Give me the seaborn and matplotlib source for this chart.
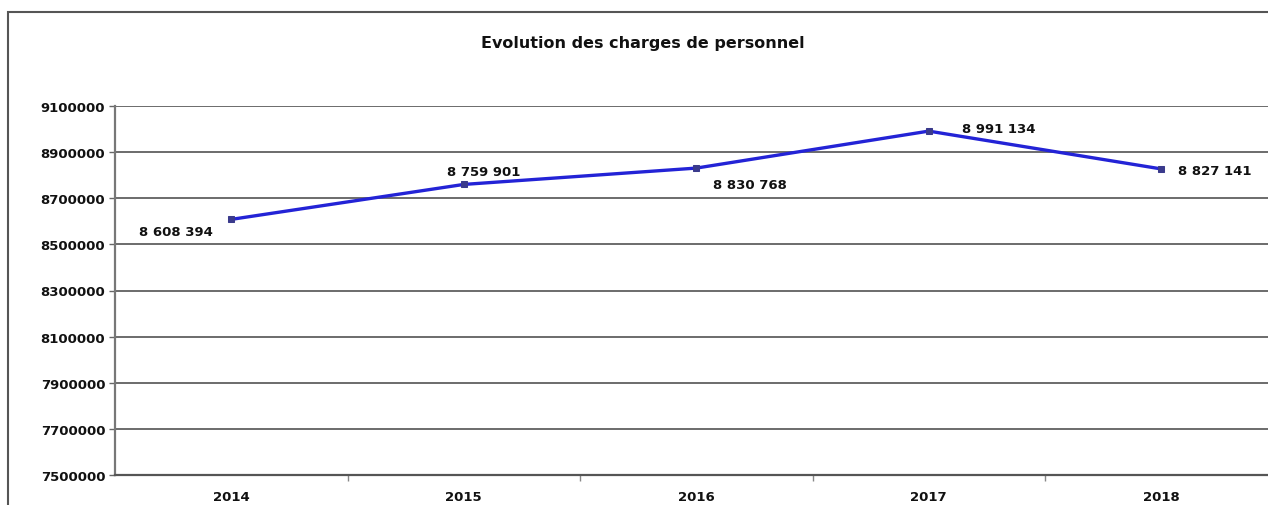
import matplotlib.pyplot as plt
import matplotlib.patches as mpatches
import pandas as pd
import seaborn as sns

years = ["2014", "2015", "2016", "2017", "2018"]
charges = [8608394, 8759901, 8830768, 8991134, 8827141]
value_labels = ["8 608 394", "8 759 901", "8 830 768", "8 991 134", "8 827 141"]
y_ticks = list(range(7500000, 9100001, 200000))

# label offsets (points) and alignment for each data label
label_pos = [
    ((-13, -9), "right"),
    ((14, 9), "center"),
    ((12, -12), "left"),
    ((24, 2), "left"),
    ((12, -1), "left"),
]

df = pd.DataFrame({"year": years, "charges": charges})

sns.set_style("white")
plt.rcParams["font.family"] = ["DejaVu Sans"]
plt.rcParams["text.color"] = "#111111"
plt.rcParams["xtick.color"] = "#555555"
plt.rcParams["ytick.color"] = "#555555"
plt.rcParams["xtick.labelcolor"] = "#111111"
plt.rcParams["ytick.labelcolor"] = "#111111"

fig = plt.figure(figsize=(12.68, 5.06), dpi=100)
ax = fig.add_axes([115 / 1268, 30 / 506, 1162.5 / 1268, 369 / 506])

# outer chart frame
fig.patches.append(
    mpatches.Rectangle(
        (8 / 1268, -0.1), 1.2, 1 - 13 / 506 + 0.1,
        transform=fig.transFigure, fill=False, edgecolor="#555555", linewidth=1.5,
    )
)

sns.lineplot(
    data=df, x="year", y="charges", ax=ax,
    color="#2323d6", linewidth=2.4, marker="s", markersize=5,
    markerfacecolor="#3a3a8c", markeredgecolor="#3a3a8c",
)

for i, (val, lab) in enumerate(zip(charges, value_labels)):
    (dx, dy), ha = label_pos[i]
    ax.annotate(
        lab, (i, val), xytext=(dx, dy), textcoords="offset points",
        ha=ha, va="center", fontsize=9.5, fontweight="bold", color="#111111",
    )

ax.set_xlim(-0.5, 4.5)
ax.set_ylim(7500000, 9100000)
ax.set_yticks(y_ticks)
ax.set_yticklabels([str(t) for t in y_ticks], fontsize=9.5, fontweight="bold")
ax.set_xticks(range(len(years)))
ax.set_xticklabels(years, fontsize=9.5, fontweight="bold")
# small ticks between the categories, as in the original chart
ax.set_xticks([i + 0.5 for i in range(len(years) - 1)], minor=True)
ax.tick_params(axis="x", which="major", length=0, pad=11)
ax.tick_params(axis="x", which="minor", length=4, width=1, color="#888888",
               direction="out", bottom=True)
ax.tick_params(axis="y", length=4, width=1, color="#666666", pad=3, direction="out", left=True)
ax.grid(axis="y", color="#444444", linewidth=1.1)
ax.set_axisbelow(True)
for s in ["top", "right"]:
    ax.spines[s].set_visible(False)
ax.spines["left"].set_color("#777777")
ax.spines["left"].set_linewidth(1.6)
ax.spines["bottom"].set_color("#555555")
ax.spines["bottom"].set_linewidth(1.6)
ax.set_xlabel("")
ax.set_ylabel("")

fig.text(643 / 1268, 1 - 44 / 506, "Evolution des charges de personnel",
         ha="center", va="center", fontsize=11.5, fontweight="bold", color="#111111")

fig.savefig("out.png", dpi=100, facecolor="white")
